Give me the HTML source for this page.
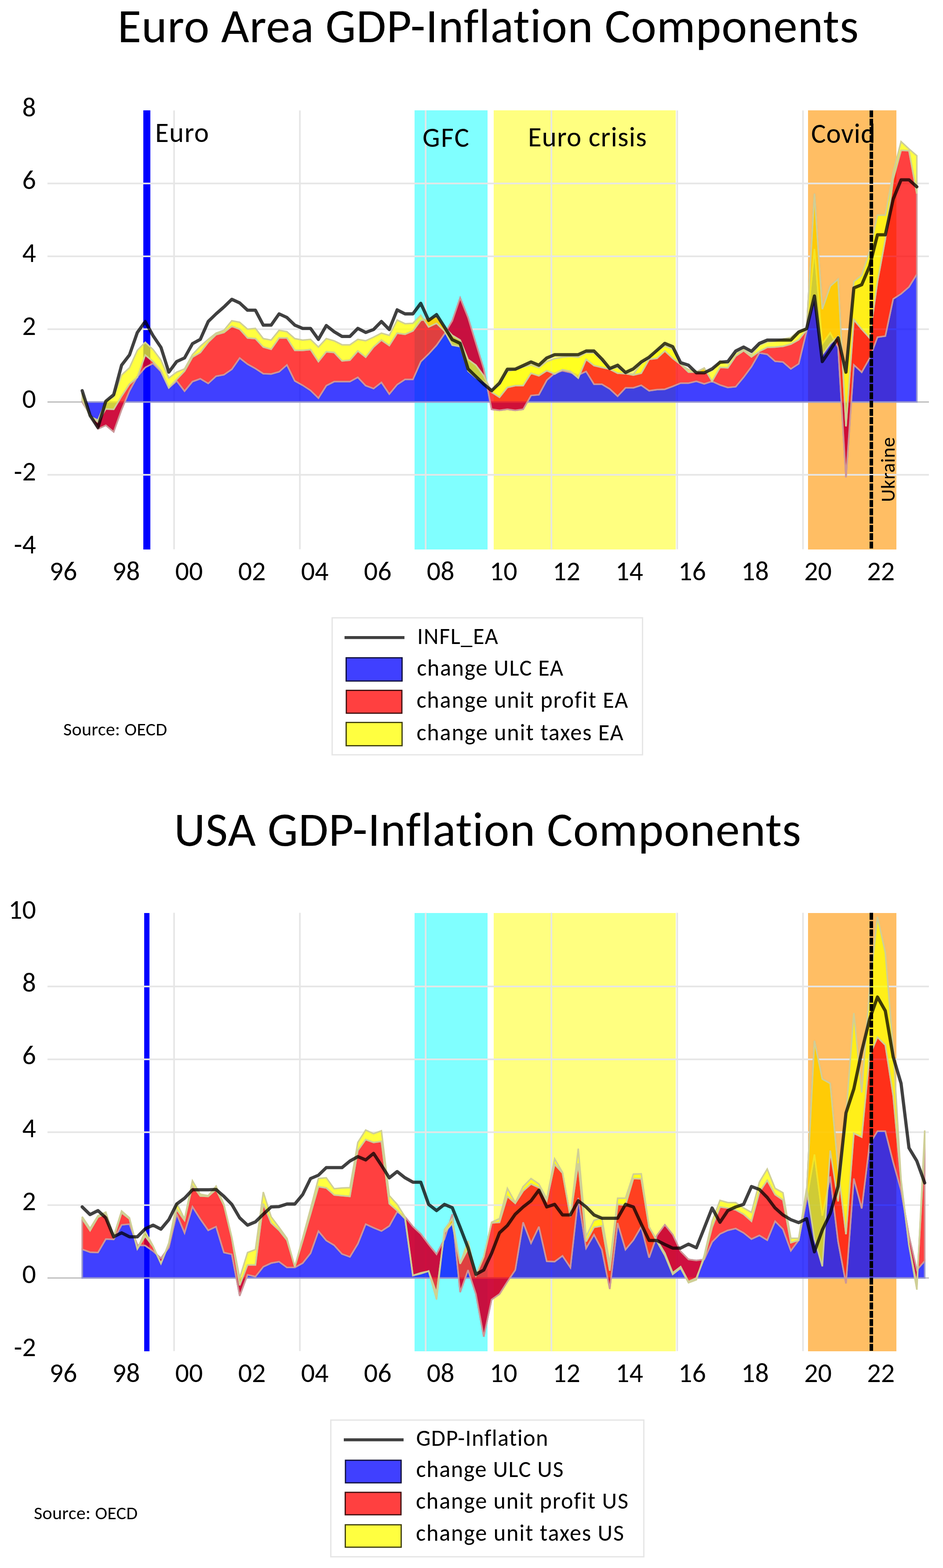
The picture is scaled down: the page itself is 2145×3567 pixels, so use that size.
<!DOCTYPE html>
<html><head><meta charset="utf-8"><title>GDP-Inflation Components</title>
<style>html,body{margin:0;padding:0;background:#fff;}svg{display:block;}text{font-family:Carlito, 'Liberation Sans', sans-serif;fill:#000;font-variant-ligatures:none;font-feature-settings:"liga" 0,"clig" 0;}</style>
</head><body>
<svg width="2145" height="3567" viewBox="0 0 2145 3567">
<rect width="2145" height="3567" fill="#fff"/>
<text x="267.5" y="95.9" font-size="110" textLength="1685.5" lengthAdjust="spacing">Euro Area GDP-Inflation Components</text>
<rect x="326" y="251.2" width="16" height="998.3" fill="#0000FF" shape-rendering="crispEdges"/>
<rect x="943" y="251.2" width="165.8" height="998.3" fill="#80FFFF" shape-rendering="crispEdges"/>
<rect x="1123" y="251.2" width="414" height="998.3" fill="#FFFF80" shape-rendering="crispEdges"/>
<rect x="1838" y="251.2" width="201" height="998.3" fill="#FFBE64" shape-rendering="crispEdges"/>
<path d="M108 417.4H2113 M108 583.1H2113 M108 748.8H2113 M108 1080.2H2113 M396 251.2V1249.5 M682.1 251.2V1249.5 M968.2 251.2V1249.5 M1254.3 251.2V1249.5 M1540.4 251.2V1249.5 M1826.5 251.2V1249.5" stroke="#E6E6E6" stroke-width="3.7" fill="none"/>
<path d="M108 914.5H2113" stroke="#BFBFBF" stroke-width="3" fill="none"/>
<path d="M187 914.5 L204.9 943.5 L222.8 975.8 L240.7 967.5 L258.6 982.4 L276.6 931.9 L294.5 888.8 L312.4 856.5 L330.3 835.8 L348.2 826.7 L366.1 844.9 L384 882.2 L401.9 866.4 L419.8 889.6 L437.7 868.1 L455.6 861.5 L473.6 872.2 L491.5 855.7 L509.4 852.4 L527.3 839.9 L545.2 814.3 L563.1 828.3 L581 838.3 L598.9 849.9 L616.8 850.7 L634.8 845.7 L652.7 830 L670.6 866.4 L688.5 876.4 L706.4 888 L724.3 905.4 L742.2 877.2 L760.1 868.1 L778 868.1 L795.9 868.1 L813.9 858.2 L831.8 877.2 L849.7 883.8 L867.6 869.8 L885.5 896.3 L903.4 874.7 L921.3 863.1 L939.2 863.1 L957.1 822.5 L975 805.1 L993 785.3 L1010.9 759.6 L1028.8 729.7 L1046.7 677.5 L1064.6 722.3 L1082.5 781.1 L1100.4 839.1 L1118.3 931.1 L1136.2 933.6 L1154.1 931.1 L1172 933.6 L1190 931.1 L1207.9 899.6 L1225.8 897.9 L1243.7 864.8 L1261.6 849 L1279.5 843.2 L1297.4 847.4 L1315.3 853.2 L1333.2 844.9 L1351.2 873.9 L1369.1 873.9 L1387 884.7 L1404.9 901.2 L1422.8 882.2 L1440.7 882.2 L1458.6 876.4 L1476.5 888.8 L1494.4 886.3 L1512.3 885.5 L1530.2 878.9 L1548.2 871.4 L1566.1 871.4 L1584 867.3 L1601.9 873.1 L1619.8 867.3 L1637.7 875.6 L1655.6 881.4 L1673.5 879.7 L1691.4 858.2 L1709.3 834.1 L1727.3 802.7 L1745.2 806 L1763.1 821.7 L1781 823.4 L1798.9 839.1 L1816.8 827.5 L1834.7 752.9 L1852.6 566.5 L1870.5 781.9 L1888.5 757.1 L1906.4 790.2 L1924.3 1086 L1942.2 830 L1960.1 846.6 L1978 815.1 L1995.9 767 L2013.8 764.5 L2031.7 680 L2049.6 668.4 L2067.6 652.7 L2085.5 623.7 L2085.5 914.5 L2067.6 914.5 L2049.6 914.5 L2031.7 914.5 L2013.8 914.5 L1995.9 914.5 L1978 914.5 L1960.1 914.5 L1942.2 914.5 L1924.3 914.5 L1906.4 914.5 L1888.5 914.5 L1870.5 914.5 L1852.6 914.5 L1834.7 914.5 L1816.8 914.5 L1798.9 914.5 L1781 914.5 L1763.1 914.5 L1745.2 914.5 L1727.3 914.5 L1709.3 914.5 L1691.4 914.5 L1673.5 914.5 L1655.6 914.5 L1637.7 914.5 L1619.8 914.5 L1601.9 914.5 L1584 914.5 L1566.1 914.5 L1548.2 914.5 L1530.2 914.5 L1512.3 914.5 L1494.4 914.5 L1476.5 914.5 L1458.6 914.5 L1440.7 914.5 L1422.8 914.5 L1404.9 914.5 L1387 914.5 L1369.1 914.5 L1351.2 914.5 L1333.2 914.5 L1315.3 914.5 L1297.4 914.5 L1279.5 914.5 L1261.6 914.5 L1243.7 914.5 L1225.8 914.5 L1207.9 914.5 L1190 914.5 L1172 914.5 L1154.1 914.5 L1136.2 914.5 L1118.3 914.5 L1100.4 914.5 L1082.5 914.5 L1064.6 914.5 L1046.7 914.5 L1028.8 914.5 L1010.9 914.5 L993 914.5 L975 914.5 L957.1 914.5 L939.2 914.5 L921.3 914.5 L903.4 914.5 L885.5 914.5 L867.6 914.5 L849.7 914.5 L831.8 914.5 L813.9 914.5 L795.9 914.5 L778 914.5 L760.1 914.5 L742.2 914.5 L724.3 914.5 L706.4 914.5 L688.5 914.5 L670.6 914.5 L652.7 914.5 L634.8 914.5 L616.8 914.5 L598.9 914.5 L581 914.5 L563.1 914.5 L545.2 914.5 L527.3 914.5 L509.4 914.5 L491.5 914.5 L473.6 914.5 L455.6 914.5 L437.7 914.5 L419.8 914.5 L401.9 914.5 L384 914.5 L366.1 914.5 L348.2 914.5 L330.3 914.5 L312.4 914.5 L294.5 914.5 L276.6 914.5 L258.6 914.5 L240.7 914.5 L222.8 914.5 L204.9 914.5 L187 914.5Z" fill="#0000FF" fill-opacity="0.75" stroke="#9696CF" stroke-width="3.5" stroke-linejoin="miter" stroke-miterlimit="3"/>
<path d="M187 910.4 L204.9 946 L222.8 960.1 L240.7 930.2 L258.6 931.1 L276.6 901.2 L294.5 873.9 L312.4 858.2 L330.3 807.6 L348.2 822.5 L366.1 843.2 L384 882.2 L401.9 863.1 L419.8 844.1 L437.7 812.6 L455.6 801.8 L473.6 778.6 L491.5 761.2 L509.4 756.3 L527.3 742.2 L545.2 748.8 L563.1 768.7 L581 770.3 L598.9 789.4 L616.8 794.4 L634.8 768.7 L652.7 768.7 L670.6 796.9 L688.5 796.9 L706.4 795.2 L724.3 822.5 L742.2 800.2 L760.1 801.8 L778 820.9 L795.9 819.2 L813.9 798.5 L831.8 812.6 L849.7 789.4 L867.6 773.7 L885.5 786.1 L903.4 757.9 L921.3 760.4 L939.2 752.9 L957.1 728.9 L975 725.6 L993 720.6 L1010.9 743.8 L1028.8 762.9 L1046.7 773.7 L1064.6 817.6 L1082.5 830.8 L1100.4 854.8 L1118.3 892.1 L1136.2 903.7 L1154.1 881.4 L1172 877.2 L1190 877.2 L1207.9 849 L1225.8 854.8 L1243.7 843.2 L1261.6 850.7 L1279.5 840.8 L1297.4 844.9 L1315.3 859.8 L1333.2 817.6 L1351.2 831.6 L1369.1 835.8 L1387 839.9 L1404.9 849 L1422.8 849.9 L1440.7 853.2 L1458.6 849 L1476.5 817.6 L1494.4 815.1 L1512.3 798.5 L1530.2 815.1 L1548.2 829.2 L1566.1 846.6 L1584 846.6 L1601.9 837.4 L1619.8 867.3 L1637.7 835.8 L1655.6 836.6 L1673.5 810.1 L1691.4 797.7 L1709.3 811.8 L1727.3 799.3 L1745.2 790.2 L1763.1 789.4 L1781 787.7 L1798.9 782.8 L1816.8 772.8 L1834.7 750.5 L1852.6 440.6 L1870.5 703.2 L1888.5 651 L1906.4 635.3 L1924.3 970 L1942.2 727.3 L1960.1 748.8 L1978 768.7 L1995.9 641.1 L2013.8 544.2 L2031.7 407.5 L2049.6 342 L2067.6 342.8 L2085.5 440.6 L2085.5 623.7 L2067.6 652.7 L2049.6 668.4 L2031.7 680 L2013.8 764.5 L1995.9 767 L1978 815.1 L1960.1 846.6 L1942.2 830 L1924.3 1086 L1906.4 790.2 L1888.5 757.1 L1870.5 781.9 L1852.6 566.5 L1834.7 752.9 L1816.8 827.5 L1798.9 839.1 L1781 823.4 L1763.1 821.7 L1745.2 806 L1727.3 802.7 L1709.3 834.1 L1691.4 858.2 L1673.5 879.7 L1655.6 881.4 L1637.7 875.6 L1619.8 867.3 L1601.9 873.1 L1584 867.3 L1566.1 871.4 L1548.2 871.4 L1530.2 878.9 L1512.3 885.5 L1494.4 886.3 L1476.5 888.8 L1458.6 876.4 L1440.7 882.2 L1422.8 882.2 L1404.9 901.2 L1387 884.7 L1369.1 873.9 L1351.2 873.9 L1333.2 844.9 L1315.3 853.2 L1297.4 847.4 L1279.5 843.2 L1261.6 849 L1243.7 864.8 L1225.8 897.9 L1207.9 899.6 L1190 931.1 L1172 933.6 L1154.1 931.1 L1136.2 933.6 L1118.3 931.1 L1100.4 839.1 L1082.5 781.1 L1064.6 722.3 L1046.7 677.5 L1028.8 729.7 L1010.9 759.6 L993 785.3 L975 805.1 L957.1 822.5 L939.2 863.1 L921.3 863.1 L903.4 874.7 L885.5 896.3 L867.6 869.8 L849.7 883.8 L831.8 877.2 L813.9 858.2 L795.9 868.1 L778 868.1 L760.1 868.1 L742.2 877.2 L724.3 905.4 L706.4 888 L688.5 876.4 L670.6 866.4 L652.7 830 L634.8 845.7 L616.8 850.7 L598.9 849.9 L581 838.3 L563.1 828.3 L545.2 814.3 L527.3 839.9 L509.4 852.4 L491.5 855.7 L473.6 872.2 L455.6 861.5 L437.7 868.1 L419.8 889.6 L401.9 866.4 L384 882.2 L366.1 844.9 L348.2 826.7 L330.3 835.8 L312.4 856.5 L294.5 888.8 L276.6 931.9 L258.6 982.4 L240.7 967.5 L222.8 975.8 L204.9 943.5 L187 914.5Z" fill="#FF0000" fill-opacity="0.75" stroke="#CF9696" stroke-width="3.5" stroke-linejoin="miter" stroke-miterlimit="3"/>
<path d="M187 893.8 L204.9 947.6 L222.8 955.9 L240.7 912.8 L258.6 902.9 L276.6 853.2 L294.5 836.6 L312.4 796.9 L330.3 778.6 L348.2 795.2 L366.1 819.2 L384 859.8 L401.9 846.6 L419.8 839.1 L437.7 806.8 L455.6 787.7 L473.6 772 L491.5 757.9 L509.4 751.3 L527.3 729.7 L545.2 733.1 L563.1 748.8 L581 747.1 L598.9 770.3 L616.8 773.7 L634.8 751.3 L652.7 754.6 L670.6 770.3 L688.5 773.7 L706.4 772 L724.3 789.4 L742.2 770.3 L760.1 775.3 L778 784.4 L795.9 784.4 L813.9 772 L831.8 775.3 L849.7 767 L867.6 757.9 L885.5 762.9 L903.4 728.1 L921.3 736.4 L939.2 735.5 L957.1 717.3 L975 743.8 L993 735.5 L1010.9 752.9 L1028.8 785.3 L1046.7 788.6 L1064.6 844.1 L1082.5 859.8 L1100.4 868.1 L1118.3 887.2 L1136.2 875.6 L1154.1 844.9 L1172 840.8 L1190 835 L1207.9 830 L1225.8 836.6 L1243.7 822.5 L1261.6 815.9 L1279.5 812.6 L1297.4 810.9 L1315.3 812.6 L1333.2 802.7 L1351.2 802.7 L1369.1 820.9 L1387 839.9 L1404.9 835.8 L1422.8 849.9 L1440.7 851.5 L1458.6 826.7 L1476.5 815.1 L1494.4 798.5 L1512.3 786.9 L1530.2 794.4 L1548.2 829.2 L1566.1 840.8 L1584 844.9 L1601.9 847.4 L1619.8 843.2 L1637.7 820.9 L1655.6 827.5 L1673.5 803.5 L1691.4 795.2 L1709.3 806.8 L1727.3 785.3 L1745.2 777.8 L1763.1 776.1 L1781 771.2 L1798.9 767.9 L1816.8 752.9 L1834.7 745.5 L1852.6 672.6 L1870.5 806.8 L1888.5 781.9 L1906.4 765.4 L1924.3 846.6 L1942.2 640.3 L1960.1 626.2 L1978 571.5 L1995.9 489.5 L2013.8 489.5 L2031.7 392.5 L2049.6 322.1 L2067.6 338.7 L2085.5 354.4 L2085.5 440.6 L2067.6 342.8 L2049.6 342 L2031.7 407.5 L2013.8 544.2 L1995.9 641.1 L1978 768.7 L1960.1 748.8 L1942.2 727.3 L1924.3 970 L1906.4 635.3 L1888.5 651 L1870.5 703.2 L1852.6 440.6 L1834.7 750.5 L1816.8 772.8 L1798.9 782.8 L1781 787.7 L1763.1 789.4 L1745.2 790.2 L1727.3 799.3 L1709.3 811.8 L1691.4 797.7 L1673.5 810.1 L1655.6 836.6 L1637.7 835.8 L1619.8 867.3 L1601.9 837.4 L1584 846.6 L1566.1 846.6 L1548.2 829.2 L1530.2 815.1 L1512.3 798.5 L1494.4 815.1 L1476.5 817.6 L1458.6 849 L1440.7 853.2 L1422.8 849.9 L1404.9 849 L1387 839.9 L1369.1 835.8 L1351.2 831.6 L1333.2 817.6 L1315.3 859.8 L1297.4 844.9 L1279.5 840.8 L1261.6 850.7 L1243.7 843.2 L1225.8 854.8 L1207.9 849 L1190 877.2 L1172 877.2 L1154.1 881.4 L1136.2 903.7 L1118.3 892.1 L1100.4 854.8 L1082.5 830.8 L1064.6 817.6 L1046.7 773.7 L1028.8 762.9 L1010.9 743.8 L993 720.6 L975 725.6 L957.1 728.9 L939.2 752.9 L921.3 760.4 L903.4 757.9 L885.5 786.1 L867.6 773.7 L849.7 789.4 L831.8 812.6 L813.9 798.5 L795.9 819.2 L778 820.9 L760.1 801.8 L742.2 800.2 L724.3 822.5 L706.4 795.2 L688.5 796.9 L670.6 796.9 L652.7 768.7 L634.8 768.7 L616.8 794.4 L598.9 789.4 L581 770.3 L563.1 768.7 L545.2 748.8 L527.3 742.2 L509.4 756.3 L491.5 761.2 L473.6 778.6 L455.6 801.8 L437.7 812.6 L419.8 844.1 L401.9 863.1 L384 882.2 L366.1 843.2 L348.2 822.5 L330.3 807.6 L312.4 858.2 L294.5 873.9 L276.6 901.2 L258.6 931.1 L240.7 930.2 L222.8 960.1 L204.9 946 L187 910.4Z" fill="#FFFF00" fill-opacity="0.75" stroke="#CFCF96" stroke-width="3.5" stroke-linejoin="miter" stroke-miterlimit="3"/>
<path d="M187 888.8 L204.9 945.2 L222.8 972.5 L240.7 912.8 L258.6 897.9 L276.6 830.8 L294.5 807.6 L312.4 756.3 L330.3 731.4 L348.2 763.7 L366.1 790.2 L384 846.6 L401.9 822.5 L419.8 814.3 L437.7 781.9 L455.6 772 L473.6 731.4 L491.5 714 L509.4 698.3 L527.3 680.9 L545.2 689.1 L563.1 705.7 L581 705.7 L598.9 739.7 L616.8 739.7 L634.8 714 L652.7 722.3 L670.6 739.7 L688.5 747.1 L706.4 747.1 L724.3 772 L742.2 740.5 L760.1 754.6 L778 765.4 L795.9 765.4 L813.9 747.1 L831.8 756.3 L849.7 749.6 L867.6 731.4 L885.5 749.6 L903.4 704.9 L921.3 714 L939.2 714 L957.1 690 L975 728.9 L993 715.7 L1010.9 743.8 L1028.8 772.8 L1046.7 781.1 L1064.6 839.1 L1082.5 856.5 L1100.4 873.9 L1118.3 888.8 L1136.2 871.4 L1154.1 839.9 L1172 839.9 L1190 831.6 L1207.9 823.4 L1225.8 830.8 L1243.7 814.3 L1261.6 806.8 L1279.5 806.8 L1297.4 806.8 L1315.3 806.8 L1333.2 798.5 L1351.2 798.5 L1369.1 816.7 L1387 838.3 L1404.9 830.8 L1422.8 847.4 L1440.7 839.1 L1458.6 823.4 L1476.5 812.6 L1494.4 796.9 L1512.3 781.1 L1530.2 788.6 L1548.2 825 L1566.1 830.8 L1584 848.2 L1601.9 848.2 L1619.8 839.1 L1637.7 824.2 L1655.6 822.5 L1673.5 798.5 L1691.4 789.4 L1709.3 799.3 L1727.3 781.1 L1745.2 773.7 L1763.1 773.7 L1781 773.7 L1798.9 773.7 L1816.8 755.4 L1834.7 748 L1852.6 673.4 L1870.5 822.5 L1888.5 796 L1906.4 768.7 L1924.3 846.6 L1942.2 655.2 L1960.1 647.7 L1978 605.5 L1995.9 534.2 L2013.8 534.2 L2031.7 453 L2049.6 409.1 L2067.6 409.1 L2085.5 424.9" fill="none" stroke="#000" stroke-opacity="0.75" stroke-width="7.3" stroke-linejoin="round" stroke-linecap="round"/>
<path d="M1982 251.2V1249.5" stroke="#000" stroke-width="8" stroke-dasharray="15.8 3.06" fill="none"/>
<text x="82" y="264.7" font-size="62" text-anchor="end">8</text>
<text x="82" y="430.4" font-size="62" text-anchor="end">6</text>
<text x="82" y="596.1" font-size="62" text-anchor="end">4</text>
<text x="82" y="761.8" font-size="62" text-anchor="end">2</text>
<text x="82" y="927.5" font-size="62" text-anchor="end">0</text>
<text x="82" y="1093.2" font-size="62" text-anchor="end">-2</text>
<text x="82" y="1258.9" font-size="62" text-anchor="end">-4</text>
<text x="143.9" y="1320" font-size="62" text-anchor="middle">96</text>
<text x="286.9" y="1320" font-size="62" text-anchor="middle">98</text>
<text x="430" y="1320" font-size="62" text-anchor="middle">00</text>
<text x="573.1" y="1320" font-size="62" text-anchor="middle">02</text>
<text x="716.1" y="1320" font-size="62" text-anchor="middle">04</text>
<text x="859.2" y="1320" font-size="62" text-anchor="middle">06</text>
<text x="1002.2" y="1320" font-size="62" text-anchor="middle">08</text>
<text x="1145.3" y="1320" font-size="62" text-anchor="middle">10</text>
<text x="1288.4" y="1320" font-size="62" text-anchor="middle">12</text>
<text x="1431.4" y="1320" font-size="62" text-anchor="middle">14</text>
<text x="1574.5" y="1320" font-size="62" text-anchor="middle">16</text>
<text x="1717.5" y="1320" font-size="62" text-anchor="middle">18</text>
<text x="1860.6" y="1320" font-size="62" text-anchor="middle">20</text>
<text x="2003.7" y="1320" font-size="62" text-anchor="middle">22</text>
<text x="353" y="323" font-size="63" textLength="122" lengthAdjust="spacing">Euro</text>
<text x="961" y="333.6" font-size="63" textLength="106" lengthAdjust="spacing">GFC</text>
<text x="1201" y="332.5" font-size="63" textLength="270" lengthAdjust="spacing">Euro crisis</text>
<text x="1845" y="324.5" font-size="63" textLength="146" lengthAdjust="spacing">Covid</text>
<text transform="translate(2035 1142) rotate(-90)" x="0" y="0" font-size="45.5" textLength="147.5" lengthAdjust="spacing">Ukraine</text>
<text x="144" y="1673.1" font-size="42" textLength="236" lengthAdjust="spacing">Source: OECD</text>
<rect x="755.5" y="1405.5" width="706" height="311.5" fill="#fff" stroke="#E6E6E6" stroke-width="3"/>
<path d="M783.7 1450.4H920" stroke="#404040" stroke-width="6.8"/>
<rect x="787.4" y="1496.4" width="127.2" height="52.79999999999991" fill="#4040FF" stroke="#10103F" stroke-width="2.8"/>
<rect x="787.8" y="1570.5" width="126.30000000000003" height="51.90000000000005" fill="#FF4040" stroke="#401010" stroke-width="2.8"/>
<rect x="787.4" y="1643.5" width="127.2" height="52.90000000000005" fill="#FFFF40" stroke="#404010" stroke-width="2.8"/>
<text x="949" y="1464.7" font-size="52.5" textLength="184" lengthAdjust="spacing">INFL_EA</text>
<text x="948.2" y="1536.9" font-size="52.5" textLength="333" lengthAdjust="spacing">change ULC EA</text>
<text x="947.4" y="1609.8" font-size="52.5" textLength="481" lengthAdjust="spacing">change unit profit EA</text>
<text x="947.4" y="1683.6" font-size="52.5" textLength="470.5" lengthAdjust="spacing">change unit taxes EA</text>
<text x="396" y="1924" font-size="110" textLength="1426" lengthAdjust="spacing">USA GDP-Inflation Components</text>
<rect x="328" y="2076.6" width="12" height="997.0" fill="#0000FF" shape-rendering="crispEdges"/>
<rect x="943" y="2076.6" width="165.8" height="997.0" fill="#80FFFF" shape-rendering="crispEdges"/>
<rect x="1123" y="2076.6" width="414" height="997.0" fill="#FFFF80" shape-rendering="crispEdges"/>
<rect x="1838" y="2076.6" width="201" height="997.0" fill="#FFBE64" shape-rendering="crispEdges"/>
<path d="M108 2244.1H2113 M108 2409.9H2113 M108 2575.7H2113 M108 2741.5H2113 M396 2076.6V3073.6 M682.1 2076.6V3073.6 M968.2 2076.6V3073.6 M1254.3 2076.6V3073.6 M1540.4 2076.6V3073.6 M1826.5 2076.6V3073.6" stroke="#E6E6E6" stroke-width="3.7" fill="none"/>
<path d="M108 2907.3H2113" stroke="#BFBFBF" stroke-width="3" fill="none"/>
<path d="M187 2841.8 L204.9 2848.4 L222.8 2849.3 L240.7 2818.6 L258.6 2819.4 L276.6 2786.3 L294.5 2784.6 L312.4 2831.9 L330.3 2833.5 L348.2 2846 L366.1 2862.5 L384 2837.7 L401.9 2761.4 L419.8 2804.5 L437.7 2744.8 L455.6 2773 L473.6 2798.7 L491.5 2790.4 L509.4 2849.3 L527.3 2853.4 L545.2 2947.9 L563.1 2899.8 L581 2904 L598.9 2881.6 L616.8 2873.3 L634.8 2870 L652.7 2883.3 L670.6 2883.3 L688.5 2873.3 L706.4 2850.9 L724.3 2800.4 L742.2 2821.9 L760.1 2832.7 L778 2852.6 L795.9 2859.2 L813.9 2829.4 L831.8 2784.6 L849.7 2792.9 L867.6 2800.4 L885.5 2788.8 L903.4 2756.4 L921.3 2768 L939.2 2790.4 L957.1 2807 L975 2831 L993 2853.4 L1010.9 2818.6 L1028.8 2762.2 L1046.7 2939.6 L1064.6 2889.1 L1082.5 2943.8 L1100.4 3040.8 L1118.3 2956.2 L1136.2 2943.8 L1154.1 2915.6 L1172 2889.1 L1190 2780.5 L1207.9 2827.7 L1225.8 2790.4 L1243.7 2869.2 L1261.6 2870 L1279.5 2856.7 L1297.4 2883.3 L1315.3 2724.9 L1333.2 2839.3 L1351.2 2808.6 L1369.1 2842.6 L1387 2932.2 L1404.9 2782.1 L1422.8 2842.6 L1440.7 2821.1 L1458.6 2790.4 L1476.5 2860.9 L1494.4 2810.3 L1512.3 2786.3 L1530.2 2808.6 L1548.2 2846.8 L1566.1 2865 L1584 2867.5 L1601.9 2865 L1619.8 2825.2 L1637.7 2807 L1655.6 2798.7 L1673.5 2794.6 L1691.4 2804.5 L1709.3 2818.6 L1727.3 2810.3 L1745.2 2821.1 L1763.1 2778 L1781 2796.2 L1798.9 2845.1 L1816.8 2821.1 L1834.7 2729.1 L1852.6 2626.3 L1870.5 2765.5 L1888.5 2676 L1906.4 2824.4 L1924.3 2919.7 L1942.2 2681 L1960.1 2749 L1978 2602.2 L1995.9 2573.2 L2013.8 2573.2 L2031.7 2643.7 L2049.6 2707.5 L2067.6 2811.1 L2085.5 2889.1 L2103.4 2868.3 L2103.4 2907.3 L2085.5 2907.3 L2067.6 2907.3 L2049.6 2907.3 L2031.7 2907.3 L2013.8 2907.3 L1995.9 2907.3 L1978 2907.3 L1960.1 2907.3 L1942.2 2907.3 L1924.3 2907.3 L1906.4 2907.3 L1888.5 2907.3 L1870.5 2907.3 L1852.6 2907.3 L1834.7 2907.3 L1816.8 2907.3 L1798.9 2907.3 L1781 2907.3 L1763.1 2907.3 L1745.2 2907.3 L1727.3 2907.3 L1709.3 2907.3 L1691.4 2907.3 L1673.5 2907.3 L1655.6 2907.3 L1637.7 2907.3 L1619.8 2907.3 L1601.9 2907.3 L1584 2907.3 L1566.1 2907.3 L1548.2 2907.3 L1530.2 2907.3 L1512.3 2907.3 L1494.4 2907.3 L1476.5 2907.3 L1458.6 2907.3 L1440.7 2907.3 L1422.8 2907.3 L1404.9 2907.3 L1387 2907.3 L1369.1 2907.3 L1351.2 2907.3 L1333.2 2907.3 L1315.3 2907.3 L1297.4 2907.3 L1279.5 2907.3 L1261.6 2907.3 L1243.7 2907.3 L1225.8 2907.3 L1207.9 2907.3 L1190 2907.3 L1172 2907.3 L1154.1 2907.3 L1136.2 2907.3 L1118.3 2907.3 L1100.4 2907.3 L1082.5 2907.3 L1064.6 2907.3 L1046.7 2907.3 L1028.8 2907.3 L1010.9 2907.3 L993 2907.3 L975 2907.3 L957.1 2907.3 L939.2 2907.3 L921.3 2907.3 L903.4 2907.3 L885.5 2907.3 L867.6 2907.3 L849.7 2907.3 L831.8 2907.3 L813.9 2907.3 L795.9 2907.3 L778 2907.3 L760.1 2907.3 L742.2 2907.3 L724.3 2907.3 L706.4 2907.3 L688.5 2907.3 L670.6 2907.3 L652.7 2907.3 L634.8 2907.3 L616.8 2907.3 L598.9 2907.3 L581 2907.3 L563.1 2907.3 L545.2 2907.3 L527.3 2907.3 L509.4 2907.3 L491.5 2907.3 L473.6 2907.3 L455.6 2907.3 L437.7 2907.3 L419.8 2907.3 L401.9 2907.3 L384 2907.3 L366.1 2907.3 L348.2 2907.3 L330.3 2907.3 L312.4 2907.3 L294.5 2907.3 L276.6 2907.3 L258.6 2907.3 L240.7 2907.3 L222.8 2907.3 L204.9 2907.3 L187 2907.3Z" fill="#0000FF" fill-opacity="0.75" stroke="#9696CF" stroke-width="3.5" stroke-linejoin="miter" stroke-miterlimit="3"/>
<path d="M187 2773 L204.9 2799.5 L222.8 2768.9 L240.7 2761.4 L258.6 2816.1 L276.6 2758.9 L294.5 2773 L312.4 2841 L330.3 2812 L348.2 2836 L366.1 2874.1 L384 2830.2 L401.9 2751.4 L419.8 2776.3 L437.7 2696.7 L455.6 2720.8 L473.6 2721.6 L491.5 2705.9 L509.4 2742.3 L527.3 2816.9 L545.2 2923.9 L563.1 2877.5 L581 2877.5 L598.9 2738.2 L616.8 2782.1 L634.8 2798.7 L652.7 2821.1 L670.6 2881.6 L688.5 2822.7 L706.4 2761.4 L724.3 2699.2 L742.2 2702.5 L760.1 2718.3 L778 2719.9 L795.9 2721.6 L813.9 2617.2 L831.8 2592.3 L849.7 2598.9 L867.6 2596.4 L885.5 2738.2 L903.4 2753.9 L921.3 2772.2 L939.2 2901.5 L957.1 2897.4 L975 2891.5 L993 2942.1 L1010.9 2803.7 L1028.8 2783 L1046.7 2875 L1064.6 2841 L1082.5 2901.5 L1100.4 2859.2 L1118.3 2782.1 L1136.2 2780.5 L1154.1 2721.6 L1172 2737.4 L1190 2709.2 L1207.9 2693.4 L1225.8 2701.7 L1243.7 2731.6 L1261.6 2648.7 L1279.5 2668.5 L1297.4 2768 L1315.3 2646.2 L1333.2 2824.4 L1351.2 2792.1 L1369.1 2788.8 L1387 2890.7 L1404.9 2739.8 L1422.8 2741.5 L1440.7 2681 L1458.6 2681.8 L1476.5 2792.1 L1494.4 2821.1 L1512.3 2850.9 L1530.2 2895.7 L1548.2 2881.6 L1566.1 2915.6 L1584 2907.3 L1601.9 2861.7 L1619.8 2792.1 L1637.7 2745.6 L1655.6 2748.1 L1673.5 2752.3 L1691.4 2762.2 L1709.3 2778 L1727.3 2711.7 L1745.2 2685.1 L1763.1 2717.5 L1781 2729.9 L1798.9 2826.9 L1816.8 2821.1 L1834.7 2716.6 L1852.6 2367.6 L1870.5 2454.7 L1888.5 2464.6 L1906.4 2658.6 L1924.3 2807.8 L1942.2 2578.2 L1960.1 2586.5 L1978 2401.6 L1995.9 2359.3 L2013.8 2377.6 L2031.7 2492.8 L2049.6 2688.4 L2067.6 2832.7 L2085.5 2923.1 L2103.4 2603.9 L2103.4 2868.3 L2085.5 2889.1 L2067.6 2811.1 L2049.6 2707.5 L2031.7 2643.7 L2013.8 2573.2 L1995.9 2573.2 L1978 2602.2 L1960.1 2749 L1942.2 2681 L1924.3 2919.7 L1906.4 2824.4 L1888.5 2676 L1870.5 2765.5 L1852.6 2626.3 L1834.7 2729.1 L1816.8 2821.1 L1798.9 2845.1 L1781 2796.2 L1763.1 2778 L1745.2 2821.1 L1727.3 2810.3 L1709.3 2818.6 L1691.4 2804.5 L1673.5 2794.6 L1655.6 2798.7 L1637.7 2807 L1619.8 2825.2 L1601.9 2865 L1584 2867.5 L1566.1 2865 L1548.2 2846.8 L1530.2 2808.6 L1512.3 2786.3 L1494.4 2810.3 L1476.5 2860.9 L1458.6 2790.4 L1440.7 2821.1 L1422.8 2842.6 L1404.9 2782.1 L1387 2932.2 L1369.1 2842.6 L1351.2 2808.6 L1333.2 2839.3 L1315.3 2724.9 L1297.4 2883.3 L1279.5 2856.7 L1261.6 2870 L1243.7 2869.2 L1225.8 2790.4 L1207.9 2827.7 L1190 2780.5 L1172 2889.1 L1154.1 2915.6 L1136.2 2943.8 L1118.3 2956.2 L1100.4 3040.8 L1082.5 2943.8 L1064.6 2889.1 L1046.7 2939.6 L1028.8 2762.2 L1010.9 2818.6 L993 2853.4 L975 2831 L957.1 2807 L939.2 2790.4 L921.3 2768 L903.4 2756.4 L885.5 2788.8 L867.6 2800.4 L849.7 2792.9 L831.8 2784.6 L813.9 2829.4 L795.9 2859.2 L778 2852.6 L760.1 2832.7 L742.2 2821.9 L724.3 2800.4 L706.4 2850.9 L688.5 2873.3 L670.6 2883.3 L652.7 2883.3 L634.8 2870 L616.8 2873.3 L598.9 2881.6 L581 2904 L563.1 2899.8 L545.2 2947.9 L527.3 2853.4 L509.4 2849.3 L491.5 2790.4 L473.6 2798.7 L455.6 2773 L437.7 2744.8 L419.8 2804.5 L401.9 2761.4 L384 2837.7 L366.1 2862.5 L348.2 2846 L330.3 2833.5 L312.4 2831.9 L294.5 2784.6 L276.6 2786.3 L258.6 2819.4 L240.7 2818.6 L222.8 2849.3 L204.9 2848.4 L187 2841.8Z" fill="#FF0000" fill-opacity="0.75" stroke="#CF9696" stroke-width="3.5" stroke-linejoin="miter" stroke-miterlimit="3"/>
<path d="M187 2768 L204.9 2794.6 L222.8 2765.5 L240.7 2757.3 L258.6 2812 L276.6 2754.8 L294.5 2770.5 L312.4 2841 L330.3 2801.2 L348.2 2834.3 L366.1 2874.1 L384 2827.7 L401.9 2736.5 L419.8 2773 L437.7 2686 L455.6 2716.6 L473.6 2719.9 L491.5 2698.4 L509.4 2739.8 L527.3 2814.5 L545.2 2907.3 L563.1 2849.3 L581 2842.6 L598.9 2711.7 L616.8 2768 L634.8 2792.1 L652.7 2816.9 L670.6 2881.6 L688.5 2816.1 L706.4 2749.8 L724.3 2681 L742.2 2679.3 L760.1 2704.2 L778 2702.5 L795.9 2701.7 L813.9 2598.9 L831.8 2570.7 L849.7 2579 L867.6 2572.4 L885.5 2719.9 L903.4 2739.8 L921.3 2768 L939.2 2901.5 L957.1 2895.7 L975 2891.5 L993 2956.2 L1010.9 2797 L1028.8 2772.2 L1046.7 2875 L1064.6 2822.7 L1082.5 2901.5 L1100.4 2859.2 L1118.3 2780.5 L1136.2 2772.2 L1154.1 2703.4 L1172 2735.7 L1190 2699.2 L1207.9 2681 L1225.8 2693.4 L1243.7 2727.4 L1261.6 2636.2 L1279.5 2666.9 L1297.4 2768 L1315.3 2613 L1333.2 2812.8 L1351.2 2776.3 L1369.1 2770.5 L1387 2875 L1404.9 2725.7 L1422.8 2725.7 L1440.7 2671 L1458.6 2670.2 L1476.5 2790.4 L1494.4 2824.4 L1512.3 2855.9 L1530.2 2899 L1548.2 2884.9 L1566.1 2918.1 L1584 2911.4 L1601.9 2855.9 L1619.8 2778 L1637.7 2730.7 L1655.6 2735.7 L1673.5 2735.7 L1691.4 2748.1 L1709.3 2758.1 L1727.3 2689.3 L1745.2 2659.4 L1763.1 2703.4 L1781 2713.3 L1798.9 2816.9 L1816.8 2816.9 L1834.7 2703.4 L1852.6 2818.6 L1870.5 2880.8 L1888.5 2617.2 L1906.4 2733.2 L1924.3 2537.6 L1942.2 2304.6 L1960.1 2485.3 L1978 2248.2 L1995.9 2085.8 L2013.8 2167 L2031.7 2385 L2049.6 2683.5 L2067.6 2832.7 L2085.5 2933.8 L2103.4 2571.6 L2103.4 2603.9 L2085.5 2923.1 L2067.6 2832.7 L2049.6 2688.4 L2031.7 2492.8 L2013.8 2377.6 L1995.9 2359.3 L1978 2401.6 L1960.1 2586.5 L1942.2 2578.2 L1924.3 2807.8 L1906.4 2658.6 L1888.5 2464.6 L1870.5 2454.7 L1852.6 2367.6 L1834.7 2716.6 L1816.8 2821.1 L1798.9 2826.9 L1781 2729.9 L1763.1 2717.5 L1745.2 2685.1 L1727.3 2711.7 L1709.3 2778 L1691.4 2762.2 L1673.5 2752.3 L1655.6 2748.1 L1637.7 2745.6 L1619.8 2792.1 L1601.9 2861.7 L1584 2907.3 L1566.1 2915.6 L1548.2 2881.6 L1530.2 2895.7 L1512.3 2850.9 L1494.4 2821.1 L1476.5 2792.1 L1458.6 2681.8 L1440.7 2681 L1422.8 2741.5 L1404.9 2739.8 L1387 2890.7 L1369.1 2788.8 L1351.2 2792.1 L1333.2 2824.4 L1315.3 2646.2 L1297.4 2768 L1279.5 2668.5 L1261.6 2648.7 L1243.7 2731.6 L1225.8 2701.7 L1207.9 2693.4 L1190 2709.2 L1172 2737.4 L1154.1 2721.6 L1136.2 2780.5 L1118.3 2782.1 L1100.4 2859.2 L1082.5 2901.5 L1064.6 2841 L1046.7 2875 L1028.8 2783 L1010.9 2803.7 L993 2942.1 L975 2891.5 L957.1 2897.4 L939.2 2901.5 L921.3 2772.2 L903.4 2753.9 L885.5 2738.2 L867.6 2596.4 L849.7 2598.9 L831.8 2592.3 L813.9 2617.2 L795.9 2721.6 L778 2719.9 L760.1 2718.3 L742.2 2702.5 L724.3 2699.2 L706.4 2761.4 L688.5 2822.7 L670.6 2881.6 L652.7 2821.1 L634.8 2798.7 L616.8 2782.1 L598.9 2738.2 L581 2877.5 L563.1 2877.5 L545.2 2923.9 L527.3 2816.9 L509.4 2742.3 L491.5 2705.9 L473.6 2721.6 L455.6 2720.8 L437.7 2696.7 L419.8 2776.3 L401.9 2751.4 L384 2830.2 L366.1 2874.1 L348.2 2836 L330.3 2812 L312.4 2841 L294.5 2773 L276.6 2758.9 L258.6 2816.1 L240.7 2761.4 L222.8 2768.9 L204.9 2799.5 L187 2773Z" fill="#FFFF00" fill-opacity="0.75" stroke="#CFCF96" stroke-width="3.5" stroke-linejoin="miter" stroke-miterlimit="3"/>
<path d="M187 2745.6 L204.9 2763.1 L222.8 2753.9 L240.7 2770.5 L258.6 2813.6 L276.6 2804.5 L294.5 2813.6 L312.4 2813.6 L330.3 2795.4 L348.2 2787.1 L366.1 2796.2 L384 2774.7 L401.9 2739 L419.8 2725.7 L437.7 2706.7 L455.6 2706.7 L473.6 2706.7 L491.5 2705.9 L509.4 2721.6 L527.3 2739.8 L545.2 2770.5 L563.1 2787.1 L581 2779.6 L598.9 2762.2 L616.8 2745.6 L634.8 2744.8 L652.7 2739 L670.6 2739 L688.5 2717.5 L706.4 2681 L724.3 2673.5 L742.2 2656.1 L760.1 2656.1 L778 2656.1 L795.9 2641.2 L813.9 2631.2 L831.8 2638.7 L849.7 2623.8 L867.6 2651.1 L885.5 2679.3 L903.4 2665.2 L921.3 2679.3 L939.2 2689.3 L957.1 2689.3 L975 2739.8 L993 2753.9 L1010.9 2739.8 L1028.8 2747.3 L1046.7 2792.1 L1064.6 2838.5 L1082.5 2899 L1100.4 2889.1 L1118.3 2850.9 L1136.2 2804.5 L1154.1 2787.9 L1172 2762.2 L1190 2745.6 L1207.9 2731.6 L1225.8 2707.5 L1243.7 2745.6 L1261.6 2739.8 L1279.5 2763.9 L1297.4 2763.9 L1315.3 2731.6 L1333.2 2745.6 L1351.2 2763.9 L1369.1 2771.3 L1387 2771.3 L1404.9 2771.3 L1422.8 2739.8 L1440.7 2745.6 L1458.6 2784.6 L1476.5 2821.9 L1494.4 2821.9 L1512.3 2831 L1530.2 2839.3 L1548.2 2839.3 L1566.1 2830.2 L1584 2838.5 L1601.9 2793.7 L1619.8 2748.1 L1637.7 2780.5 L1655.6 2753.9 L1673.5 2745.6 L1691.4 2739.8 L1709.3 2699.2 L1727.3 2705.9 L1745.2 2724.1 L1763.1 2748.1 L1781 2763.9 L1798.9 2774.7 L1816.8 2781.3 L1834.7 2772.2 L1852.6 2847.6 L1870.5 2797.9 L1888.5 2760.6 L1906.4 2698.4 L1924.3 2531.8 L1942.2 2477 L1960.1 2391.7 L1978 2318.7 L1995.9 2268.1 L2013.8 2299.6 L2031.7 2404.1 L2049.6 2464.6 L2067.6 2611.3 L2085.5 2641.2 L2103.4 2690.9" fill="none" stroke="#000" stroke-opacity="0.75" stroke-width="7.3" stroke-linejoin="round" stroke-linecap="round"/>
<path d="M1982 2076.6V3073.6" stroke="#000" stroke-width="8" stroke-dasharray="15.8 3.06" fill="none"/>
<text x="82" y="2089.8" font-size="62" text-anchor="end">10</text>
<text x="82" y="2255.6" font-size="62" text-anchor="end">8</text>
<text x="82" y="2421.4" font-size="62" text-anchor="end">6</text>
<text x="82" y="2587.2" font-size="62" text-anchor="end">4</text>
<text x="82" y="2753" font-size="62" text-anchor="end">2</text>
<text x="82" y="2918.8" font-size="62" text-anchor="end">0</text>
<text x="82" y="3084.6" font-size="62" text-anchor="end">-2</text>
<text x="143.9" y="3144" font-size="62" text-anchor="middle">96</text>
<text x="286.9" y="3144" font-size="62" text-anchor="middle">98</text>
<text x="430" y="3144" font-size="62" text-anchor="middle">00</text>
<text x="573.1" y="3144" font-size="62" text-anchor="middle">02</text>
<text x="716.1" y="3144" font-size="62" text-anchor="middle">04</text>
<text x="859.2" y="3144" font-size="62" text-anchor="middle">06</text>
<text x="1002.2" y="3144" font-size="62" text-anchor="middle">08</text>
<text x="1145.3" y="3144" font-size="62" text-anchor="middle">10</text>
<text x="1288.4" y="3144" font-size="62" text-anchor="middle">12</text>
<text x="1431.4" y="3144" font-size="62" text-anchor="middle">14</text>
<text x="1574.5" y="3144" font-size="62" text-anchor="middle">16</text>
<text x="1717.5" y="3144" font-size="62" text-anchor="middle">18</text>
<text x="1860.6" y="3144" font-size="62" text-anchor="middle">20</text>
<text x="2003.7" y="3144" font-size="62" text-anchor="middle">22</text>
<text x="77" y="3455.8" font-size="42" textLength="236" lengthAdjust="spacing">Source: OECD</text>
<rect x="752.5" y="3230.5" width="712" height="311" fill="#fff" stroke="#E6E6E6" stroke-width="3"/>
<path d="M782 3275.3H918" stroke="#404040" stroke-width="6.8"/>
<rect x="785.8" y="3321.9" width="126.59999999999998" height="51.29999999999991" fill="#4040FF" stroke="#10103F" stroke-width="2.8"/>
<rect x="785.3" y="3394.9" width="126.80000000000003" height="51.000000000000185" fill="#FF4040" stroke="#401010" stroke-width="2.8"/>
<rect x="785.4" y="3468.7000000000003" width="127.2" height="50.99999999999973" fill="#FFFF40" stroke="#404010" stroke-width="2.8"/>
<text x="946.5" y="3289.3" font-size="52.5" textLength="300" lengthAdjust="spacing">GDP-Inflation</text>
<text x="946.5" y="3359.6" font-size="52.5" textLength="335" lengthAdjust="spacing">change ULC US</text>
<text x="946" y="3432.4" font-size="52.5" textLength="483" lengthAdjust="spacing">change unit profit US</text>
<text x="946" y="3504.7" font-size="52.5" textLength="473" lengthAdjust="spacing">change unit taxes US</text>
</svg>
</body></html>
